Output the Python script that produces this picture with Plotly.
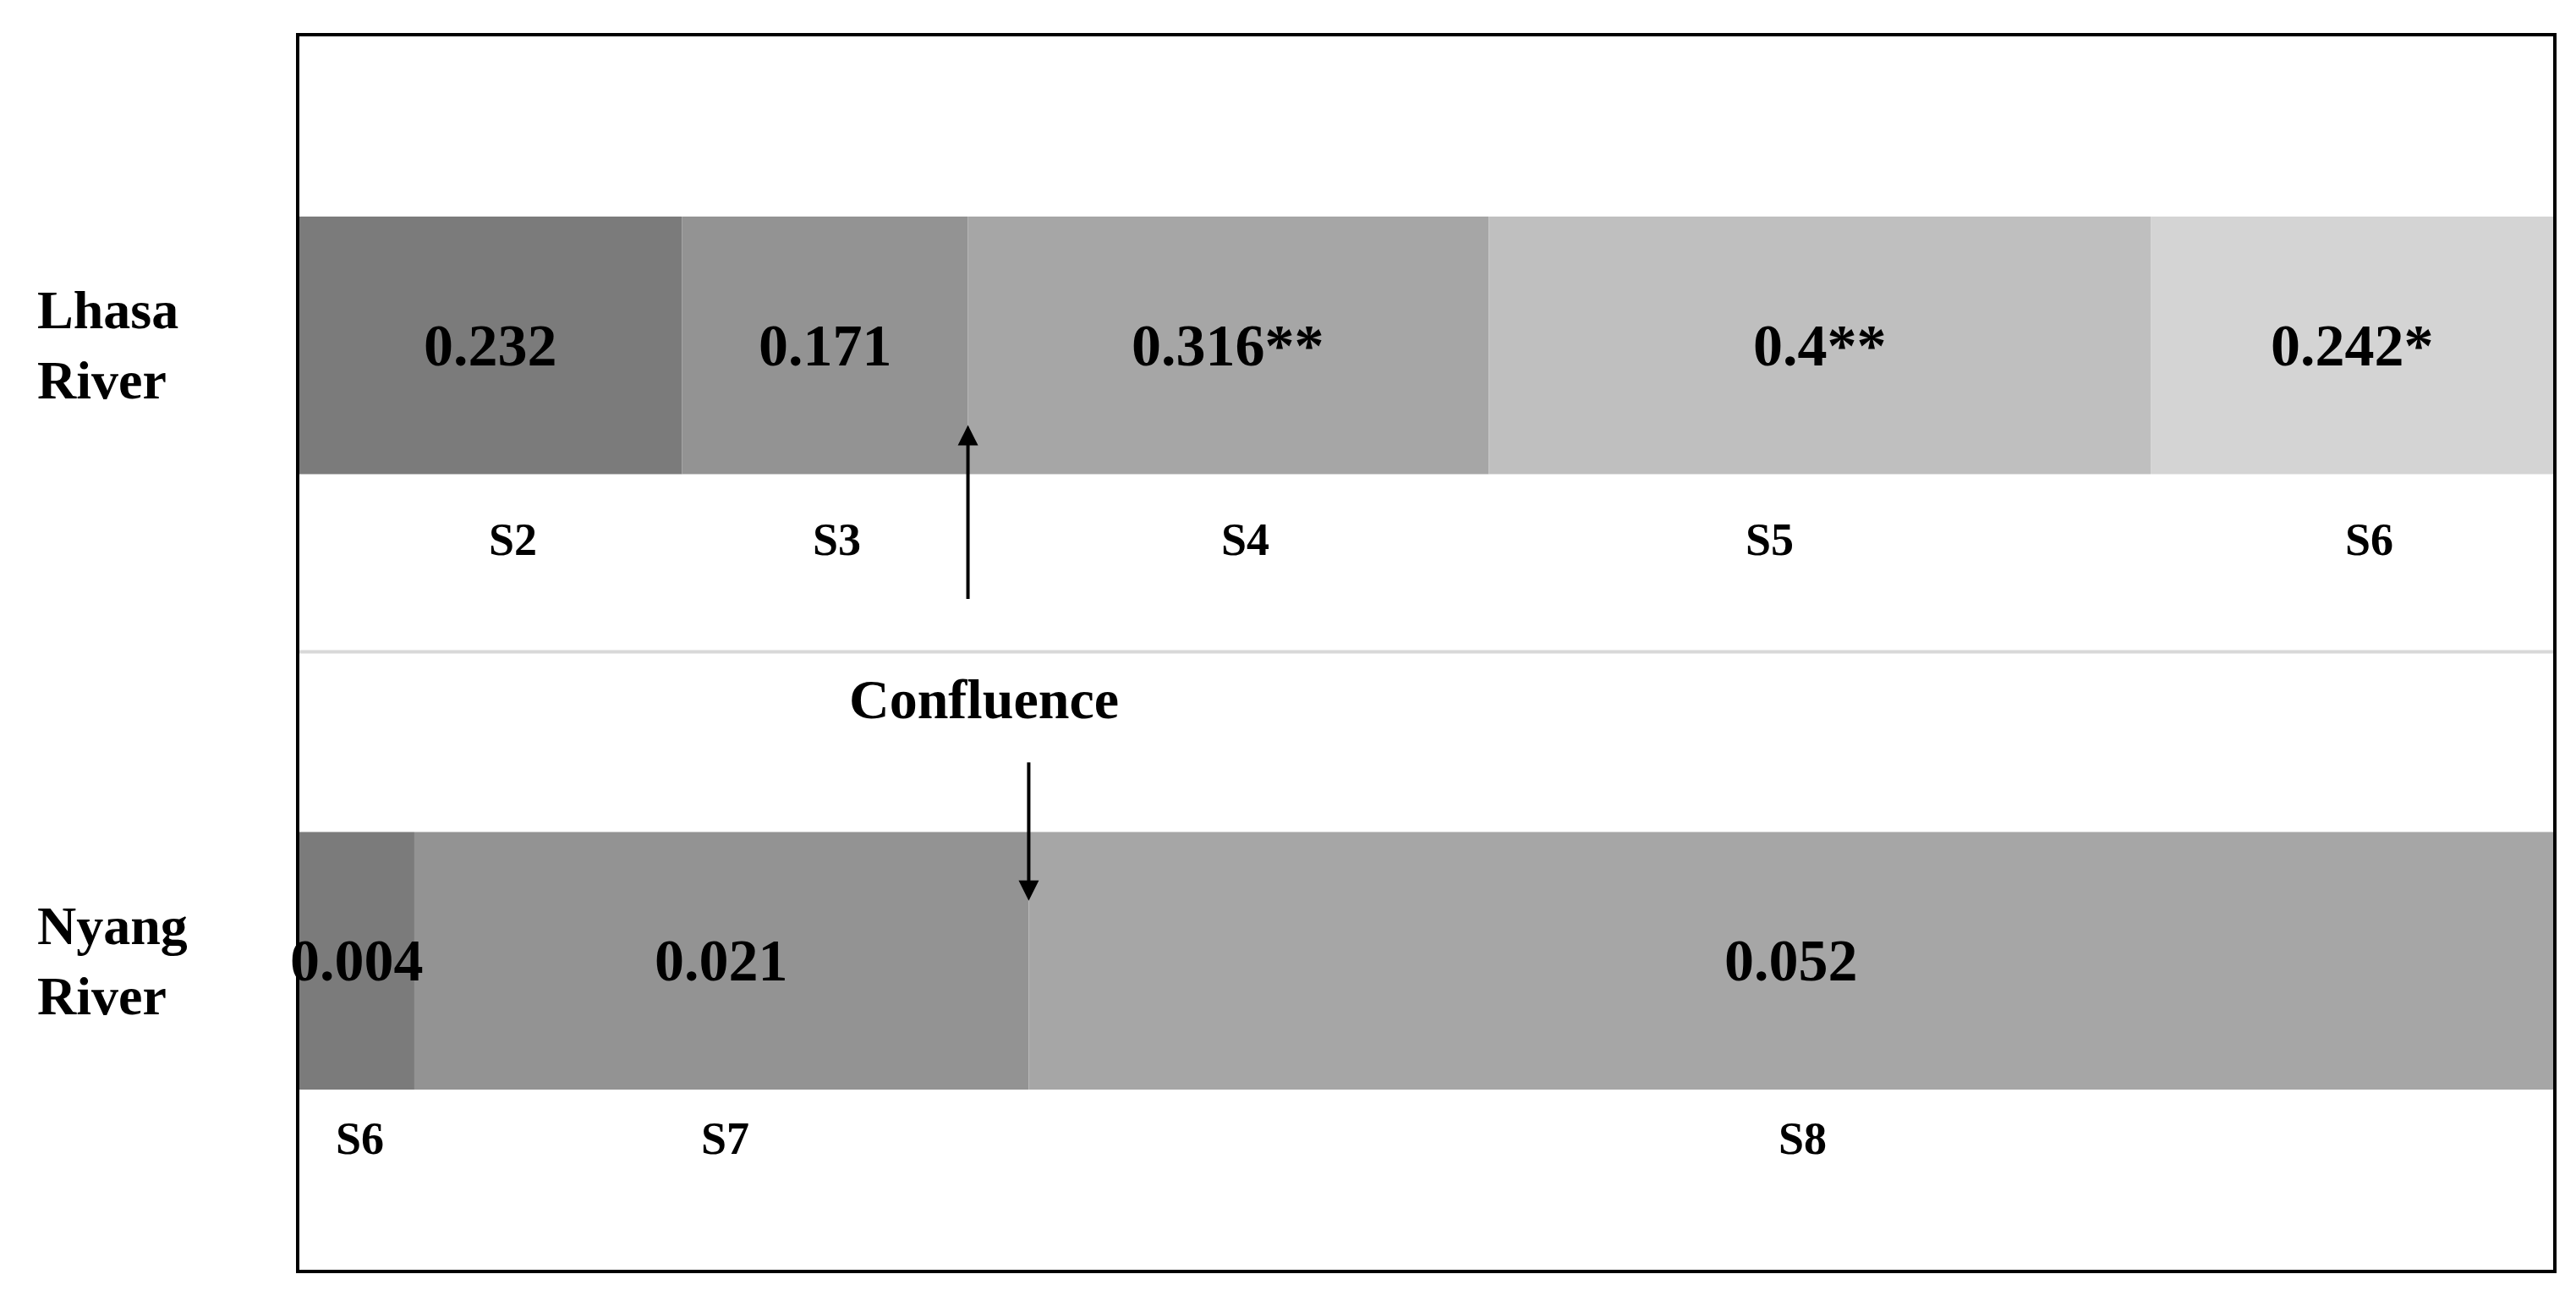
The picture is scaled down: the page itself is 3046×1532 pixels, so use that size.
import plotly.graph_objects as go
import numpy as np

lhasa_sites = ["S2", "S3", "S4", "S5", "S6"]
lhasa_values = ["0.232", "0.171", "0.316**", "0.4**", "0.242*"]
lhasa_lengths = [233, 174, 317, 403, 245]
lhasa_colors = ["#7b7b7b", "#939393", "#a6a6a6", "#bfbfbf", "#d4d4d4"]

nyang_sites = ["S6", "S7", "S8"]
nyang_values = ["0.004", "0.021", "0.052"]
nyang_lengths = [70, 374, 928]
nyang_colors = ["#7b7b7b", "#939393", "#a6a6a6"]

lhasa_site_x = [130, 327, 576, 895, 1260]
nyang_site_x = [37, 259, 915]

FONT = "Liberation Serif"
Y_L, Y_N = 2.39, 0.0

fig = go.Figure()
ann = []
for lengths, values, colors, yv in [(lhasa_lengths, lhasa_values, lhasa_colors, Y_L),
                                     (nyang_lengths, nyang_values, nyang_colors, Y_N)]:
    starts = np.concatenate([[0], np.cumsum(lengths)[:-1]])
    for s, l, v, c in zip(starts, lengths, values, colors):
        fig.add_trace(go.Bar(x=[l], y=[yv], base=[s], orientation="h", width=1.0,
                             marker=dict(color=c, line=dict(width=0)), showlegend=False,
                             hoverinfo="skip"))
        ann.append(dict(x=s + l / 2, y=yv, text=f"<b>{v}</b>", showarrow=False,
                        font=dict(family=FONT, size=70, color="black")))

for name, xv in zip(lhasa_sites, lhasa_site_x):
    ann.append(dict(x=xv, y=1.635, text=f"<b>{name}</b>", showarrow=False,
                    font=dict(family=FONT, size=54, color="black")))
for name, xv in zip(nyang_sites, nyang_site_x):
    ann.append(dict(x=xv, y=-0.69, text=f"<b>{name}</b>", showarrow=False,
                    font=dict(family=FONT, size=54, color="black")))

ann.append(dict(x=-0.117, xref="paper", y=Y_L, text="<b>Lhasa<br>River</b>", showarrow=False,
                xanchor="left", align="left", font=dict(family=FONT, size=64, color="black")))
ann.append(dict(x=-0.117, xref="paper", y=Y_N, text="<b>Nyang<br>River</b>", showarrow=False,
                xanchor="left", align="left", font=dict(family=FONT, size=64, color="black")))
ann.append(dict(x=417, y=1.017, text="<b>Confluence</b>", showarrow=False,
                font=dict(family=FONT, size=66, color="black")))
# arrows
ann.append(dict(x=407, y=2.08, ax=407, ay=1.40, axref="x", ayref="y", text="", showarrow=True,
                arrowhead=2, arrowsize=1.2, arrowwidth=4, arrowcolor="black"))
ann.append(dict(x=444, y=0.233, ax=444, ay=0.775, axref="x", ayref="y", text="", showarrow=True,
                arrowhead=2, arrowsize=1.2, arrowwidth=4, arrowcolor="black"))

fig.add_shape(type="line", x0=0, x1=1, xref="x domain", y0=1.2, y1=1.2,
              line=dict(color="#d8d8d8", width=4))

fig.update_layout(
    width=3046, height=1532, barmode="overlay",
    margin=dict(l=346, r=35, t=35, b=39),
    plot_bgcolor="white", paper_bgcolor="white",
    annotations=ann,
    xaxis=dict(range=[0, sum(lhasa_lengths)], showticklabels=False, showgrid=False, zeroline=False,
               showline=True, mirror=True, linecolor="black", linewidth=4, ticks=""),
    yaxis=dict(range=[-1.2, 3.59], showticklabels=False, showgrid=False, zeroline=False,
               showline=True, mirror=True, linecolor="black", linewidth=4, ticks=""),
)
fig.write_html("out.html")
